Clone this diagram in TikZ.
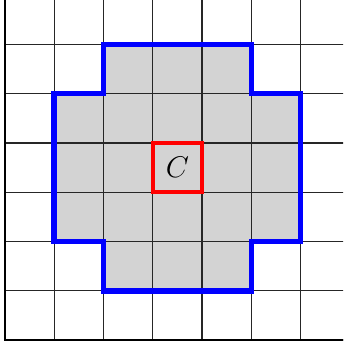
\documentclass[tikz,border=0pt]{standalone}
\definecolor{cellgray}{RGB}{211,211,211}
\tikzset{
  gridline/.style={black!85, line width=0.7pt},
  edgeline/.style={black, line width=1pt},
  region/.style={draw=blue, line width=3.2pt, line join=miter},
  center/.style={draw=red, line width=2pt, minimum size=1cm, inner sep=0pt, font=\fontsize{19}{22}\selectfont}
}
\begin{document}
\begin{tikzpicture}
\clip (-0.1,-0.14) rectangle (6.86,6.9);
\fill[cellgray] (2,1) -- (5,1) -- (5,2) -- (6,2) -- (6,5) -- (5,5) -- (5,6) -- (2,6) -- (2,5) -- (1,5) -- (1,2) -- (2,2) -- cycle;
\draw[gridline] (0,0) grid (7,7);
\draw[edgeline] (0,7) -- (0,0) -- (7,0);
\draw[region] (2,1) -- (5,1) -- (5,2) -- (6,2) -- (6,5) -- (5,5) -- (5,6) -- (2,6) -- (2,5) -- (1,5) -- (1,2) -- (2,2) -- cycle;
\node[center] (c) at (3.5,3.5) {$C$};
\end{tikzpicture}
\end{document}
